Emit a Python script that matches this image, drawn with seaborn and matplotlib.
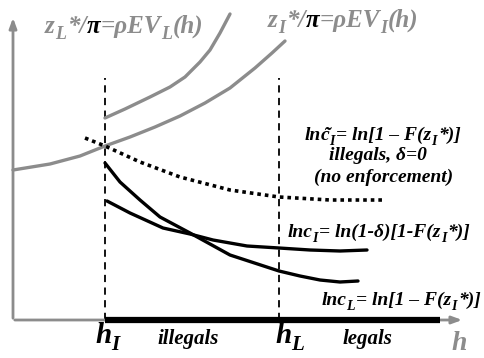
import numpy as np
import pandas as pd
import seaborn as sns
import matplotlib
matplotlib.use('Agg')
import matplotlib.pyplot as plt
import matplotlib.transforms as mtransforms

# curve readings: h along the horizontal axis, value up from the h axis
zi_h = [0, 37, 67, 92, 117, 142, 167, 192, 217, 242, 259, 272]
zi_v = [150, 156, 164, 174, 183, 193, 204, 217, 232, 252, 267, 279]

zl_h = [92, 112, 137, 157, 172, 187, 197, 207, 217]
zl_v = [202, 211, 223, 233, 243, 258, 270, 287, 306]

tilde_h = [72, 92, 127, 167, 217, 266, 317, 369]
tilde_v = [182, 174, 158, 143, 130, 123, 120, 120]

cl_h = [92, 107, 127, 147, 177, 217, 266, 287, 307, 327, 345]
cl_v = [157, 138, 120, 103, 87, 65, 49, 44, 40, 38, 39]

ci_h = [94, 117, 150, 177, 200, 234, 266, 297, 327, 354]
ci_v = [119, 107, 92, 86, 80, 74, 72, 70, 69, 70]

h_I = 92
h_L = 266
h_end = 427

sns.set_style('white')

GRAY = '#8c8c8c'
font = dict(family='Liberation Serif', weight='bold', style='italic')

fig = plt.figure(figsize=(4.85, 3.58), dpi=100)
ax = fig.add_axes([0, 0, 1, 1])
ax.set_xlim(-13, 472)
ax.set_ylim(-38, 320)
ax.axis('off')

# axes with arrows
ax.annotate('', xy=(0, 305), xytext=(0, -1),
            arrowprops=dict(arrowstyle='-|>,head_width=0.22,head_length=0.6', color=GRAY, lw=2))
ax.annotate('', xy=(452, 0), xytext=(-1, 0),
            arrowprops=dict(arrowstyle='-|>,head_width=0.22,head_length=0.6', color=GRAY, lw=2))
ax.plot([h_I, h_end], [0, 0], color='black', lw=4.5, solid_capstyle='butt', zorder=5)

# vertical dashed markers
for hx in [h_I, h_L]:
    ax.plot([hx, hx], [0, 242], color='black', lw=1.3, linestyle=(0, (4, 3)))

sns.lineplot(x=zi_h, y=zi_v, ax=ax, color=GRAY, lw=2.4, sort=False, estimator=None)
sns.lineplot(x=zl_h, y=zl_v, ax=ax, color=GRAY, lw=2.4, sort=False, estimator=None)
sns.lineplot(x=tilde_h, y=tilde_v, ax=ax, color='black', lw=2.6, linestyle=(0, (1, 1.1)),
             sort=False, estimator=None)
sns.lineplot(x=cl_h, y=cl_v, ax=ax, color='black', lw=2.4, sort=False, estimator=None)
sns.lineplot(x=ci_h, y=ci_v, ax=ax, color='black', lw=2.4, sort=False, estimator=None)


def rich(x, y, parts, size, ha='left', color='black'):
    # parts: (text, kind, colour or None); kind is 'n', 'sub' or 'tilde' (accent on previous piece)
    r = fig.canvas.get_renderer()
    items = []
    off = 0.0
    prev = (0.0, 0.0)
    for s, kind, c in parts:
        if kind == 'tilde':
            x0 = prev[0] + prev[1] / 2 + 1
            txt = ax.text(x, y, s, fontsize=size, color=c or color,
                          ha='center', va='baseline', **font)
            items.append((txt, x0, 0))
            continue
        fs = size * 0.72 if kind == 'sub' else size
        dy = -size * 0.25 * 100 / 72 if kind == 'sub' else 0
        txt = ax.text(x, y, s, fontsize=fs, color=c or color,
                      ha='left', va='baseline', **font)
        w = txt.get_window_extent(renderer=r).width
        items.append((txt, off, dy))
        prev = (off, w)
        off += w + (1.5 if kind == 'sub' else 0)
    shift = -off / 2 if ha == 'center' else 0
    for txt, o, dy in items:
        txt.set_transform(mtransforms.offset_copy(ax.transData, fig=fig, x=o + shift,
                                                  y=dy, units='dots'))


rich(32, 287, [('z', 'n', None), ('L', 'sub', None), ('*/', 'n', None), ('π', 'n', 'black'),
               ('=ρEV', 'n', None), ('L', 'sub', None), ('(h)', 'n', None)], 18, color=GRAY)
rich(255, 293, [('z', 'n', None), ('I', 'sub', None), ('*/', 'n', None), ('π', 'n', 'black'),
                ('=ρEV', 'n', None), ('I', 'sub', None), ('(h)', 'n', None)], 18, color=GRAY)

rich(370, 180, [('ln', 'n', None), ('c', 'n', None), ('˜', 'tilde', None), ('I', 'sub', None),
                ('= ln[1 – F(z', 'n', None), ('I', 'sub', None), ('*)]', 'n', None)], 14, ha='center')
rich(365, 160, [('illegals, δ=0', 'n', None)], 14, ha='center')
rich(371, 138, [('(no enforcement)', 'n', None)], 14, ha='center')
rich(366, 83, [('lnc', 'n', None), ('I', 'sub', None), ('= ln(1-δ)[1-F(z', 'n', None),
               ('I', 'sub', None), ('*)]', 'n', None)], 14, ha='center')
rich(388, 15, [('lnc', 'n', None), ('L', 'sub', None), ('= ln[1 – F(z', 'n', None),
               ('I', 'sub', None), ('*)]', 'n', None)], 14, ha='center')

rich(82, -23, [('h', 'n', None), ('I', 'sub', None)], 21)
rich(262, -23, [('h', 'n', None), ('L', 'sub', None)], 21)
rich(175, -24, [('illegals', 'n', None)], 15, ha='center')
rich(354, -24, [('legals', 'n', None)], 15, ha='center')
rich(438, -30, [('h', 'n', None)], 20, color=GRAY)

fig.savefig('out.png', dpi=100)
